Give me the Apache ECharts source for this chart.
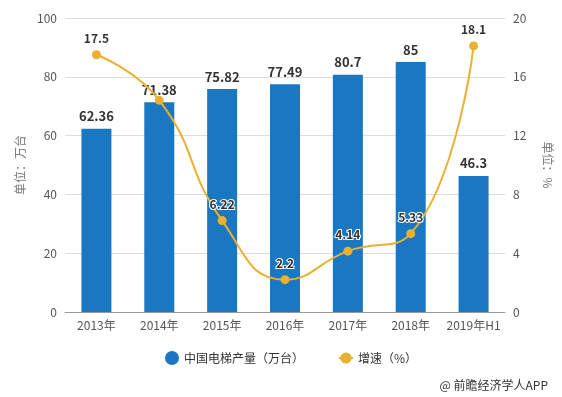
<!DOCTYPE html>
<html>
<head>
<meta charset="utf-8">
<script src="https://cdn.jsdelivr.net/npm/echarts@6/dist/echarts.min.js"></script>
<style>
  html, body { margin: 0; padding: 0; background: #fff; }
  #chart { width: 562px; height: 397px; }
</style>
</head>
<body>
<div id="chart"></div>
<script>
const years = ['2013年', '2014年', '2015年', '2016年', '2017年', '2018年', '2019年H1']
const output = [62.36, 71.38, 75.82, 77.49, 80.7, 85, 46.3]
const growth = [17.5, 14.4, 6.22, 2.2, 4.14, 5.33, 18.1]
// 2014 growth point has no label in the picture
const growthShown = [true, false, true, true, true, true, true]

const chart = echarts.init(document.getElementById('chart'))
const font = '"Microsoft YaHei", "Noto Sans CJK SC", sans-serif'

let option = {
  animation: false,
  textStyle: { fontFamily: font },
  grid: { left: 65, right: 57, top: 18, bottom: 85 },
  legend: {
    bottom: 27,
    left: 160,
    itemGap: 34,
    textStyle: { color: '#333', fontSize: 12 },
    data: [
      { name: '中国电梯产量（万台）', icon: 'circle', itemStyle: { color: '#1a78c2' } },
      { name: '增速（%）' }
    ],
    itemWidth: 14,
    itemHeight: 14
  },
  graphic: [{
    type: 'text',
    right: 14,
    bottom: 6,
    style: { text: '@ 前瞻经济学人APP', fill: '#333', font: '12px ' + font }
  }],
  xAxis: {
    type: 'category',
    data: years,
    axisLine: { lineStyle: { color: '#999' } },
    axisTick: { alignWithLabel: true, lineStyle: { color: '#999' } },
    axisLabel: { color: '#555', fontSize: 12, margin: 7, interval: 0 }
  },
  yAxis: [{
    type: 'value',
    min: 0,
    max: 100,
    interval: 20,
    name: '单位：万台',
    nameLocation: 'middle',
    nameGap: 38,
    nameTextStyle: { color: '#777', fontSize: 12 },
    axisLine: { show: false },
    axisTick: { show: false },
    axisLabel: { color: '#555', fontSize: 12 },
    splitLine: { lineStyle: { color: '#ddd' } }
  }, {
    type: 'value',
    min: 0,
    max: 20,
    interval: 4,
    name: '单位：%',
    nameLocation: 'middle',
    nameGap: 37,
    nameRotate: -90,
    nameTextStyle: { color: '#777', fontSize: 12 },
    axisLine: { show: false },
    axisTick: { show: false },
    axisLabel: { color: '#555', fontSize: 12 },
    splitLine: { show: false }
  }],
  series: [{
    name: '中国电梯产量（万台）',
    type: 'bar',
    data: output,
    barWidth: 30,
    itemStyle: { color: '#1a78c2' },
    label: {
      show: true,
      position: 'top',
      color: '#333',
      fontWeight: 'bold',
      fontSize: 13,
      distance: 6
    }
  }, {
    name: '增速（%）',
    type: 'line',
    yAxisIndex: 1,
    smooth: true,
    data: growth.map((v, i) => ({
      value: v,
      label: { show: growthShown[i] }
    })),
    symbol: 'circle',
    symbolSize: 9,
    itemStyle: { color: '#ebb02f' },
    lineStyle: { color: '#ebb02f', width: 2 },
    label: {
      show: true,
      position: 'top',
      color: '#333',
      fontWeight: 'bold',
      fontSize: 12,
      textBorderColor: '#fff',
      textBorderWidth: 2,
      distance: 6
    }
  }]
}

chart.setOption(option)
</script>
</body>
</html>
